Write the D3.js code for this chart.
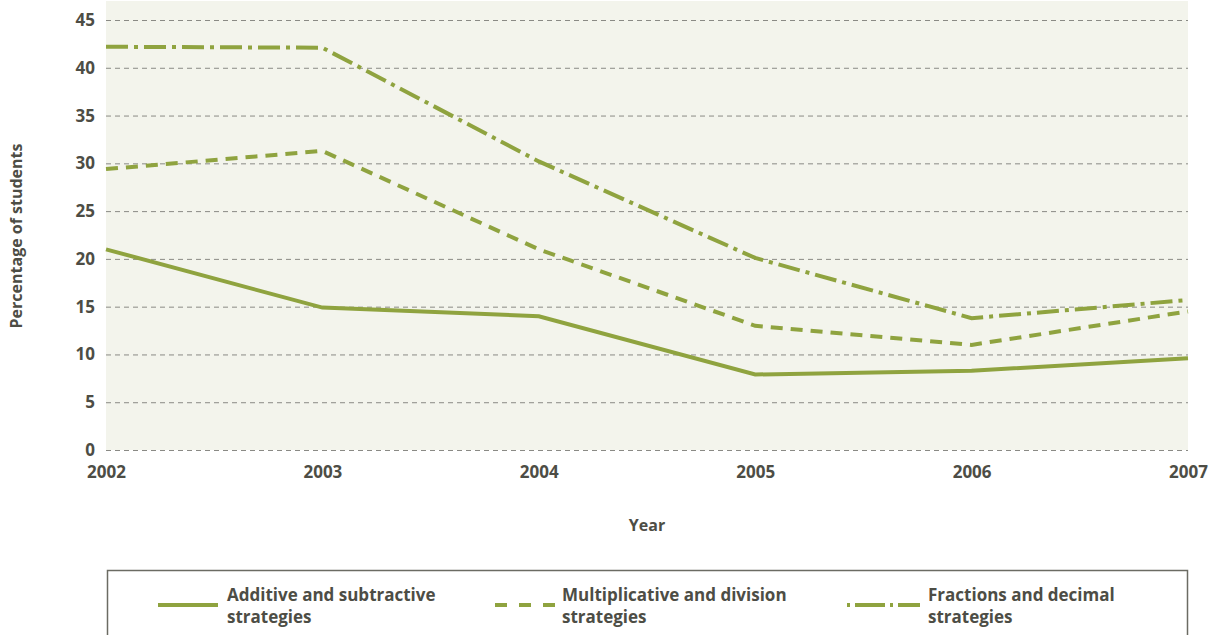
<!DOCTYPE html>
<html>
<head>
<meta charset="utf-8">
<script src="https://cdn.jsdelivr.net/npm/d3@7"></script>
<style>
  body { margin: 0; background: #fff; }
  text { font-family: "Open Sans", "Noto Sans", sans-serif; font-weight: bold; fill: #4d4d45; }
</style>
</head>
<body>
<svg id="chart" width="1211" height="635"></svg>
<script>
const YEARS = [2002, 2003, 2004, 2005, 2006, 2007]
const Y_TICKS = [0, 5, 10, 15, 20, 25, 30, 35, 40, 45]

const ADDITIVE = [21.0, 14.9, 14.0, 7.9, 8.3, 9.6]
const MULTIPLICATIVE = [29.4, 31.3, 21.0, 13.0, 11.0, 14.5]
const FRACTIONS = [42.2, 42.1, 30.2, 20.1, 13.8, 15.7]

const SERIES_NAMES = [
  ["Additive and subtractive", "strategies"],
  ["Multiplicative and division", "strategies"],
  ["Fractions and decimal", "strategies"]
]

const LINE_COLOR = "#8fa33f"
const DASHES = [null, "12,8", "22,6,4,6"]

var svg = d3.select("#chart")

var x = d3.scaleLinear().domain([2002, 2007]).range([106, 1188])
var y = d3.scaleLinear().domain([0, 45]).range([450, 20])

//plot background
svg.append("rect")
  .attr("x", x(2002))
  .attr("y", 1)
  .attr("width", x(2007) - x(2002))
  .attr("height", y(0) - 1)
  .attr("fill", "#f3f4ec")

//gridlines
svg.append("g")
  .selectAll("line")
  .data(Y_TICKS)
  .enter()
  .append("line")
    .attr("x1", x(2002))
    .attr("x2", x(2007))
    .attr("y1", d => y(d) + 0.5)
    .attr("y2", d => y(d) + 0.5)
    .attr("stroke", "#8a8a85")
    .attr("stroke-width", 1)
    .attr("stroke-dasharray", "5,4")

//y axis labels
var yAxis = d3.axisLeft(y).tickValues(Y_TICKS).tickSize(0).tickPadding(11)
var yG = svg.append("g").attr("transform", "translate(" + x(2002) + ",0)").call(yAxis)
yG.select(".domain").remove()
yG.selectAll("text")
  .style("font-size", "17px")
  .style("font-family", "'Open Sans', sans-serif")
  .attr("fill", "#4d4d45")

//x axis labels
var xAxis = d3.axisBottom(x).tickValues(YEARS).tickFormat(d3.format("d")).tickSize(0).tickPadding(16)
var xG = svg.append("g").attr("transform", "translate(0," + y(0) + ")").call(xAxis)
xG.select(".domain").remove()
xG.selectAll("text")
  .style("font-size", "17px")
  .style("font-family", "'Open Sans', sans-serif")
  .attr("fill", "#4d4d45")

//axis titles
svg.append("text")
  .attr("x", 647)
  .attr("y", 531)
  .attr("text-anchor", "middle")
  .style("font-size", "16px")
  .text("Year")

svg.append("text")
  .attr("transform", "translate(22,236)rotate(-90)")
  .attr("text-anchor", "middle")
  .style("font-size", "16px")
  .text("Percentage of students")

//series lines
var line = d3.line()
  .x((d, i) => x(YEARS[i]))
  .y(d => y(d))

;[ADDITIVE, MULTIPLICATIVE, FRACTIONS].forEach((values, i) => {
  svg.append("path")
    .datum(values)
    .attr("d", line)
    .attr("fill", "none")
    .attr("stroke", LINE_COLOR)
    .attr("stroke-width", 4)
    .attr("stroke-dasharray", DASHES[i])
})

//legend
svg.append("rect")
  .attr("x", 107.5)
  .attr("y", 570.5)
  .attr("width", 1080)
  .attr("height", 100)
  .attr("fill", "none")
  .attr("stroke", "#6b6b63")
  .attr("stroke-width", 1.5)

var legendX = [[158, 218, 227], [495, 555, 562], [847, 920, 928]]
var legendDash = [null, "12,12", "3,5,30,5,3,5,22"]

SERIES_NAMES.forEach((name, i) => {
  var pos = legendX[i]
  svg.append("line")
    .attr("x1", pos[0])
    .attr("x2", pos[1])
    .attr("y1", 605)
    .attr("y2", 605)
    .attr("stroke", LINE_COLOR)
    .attr("stroke-width", 4)
    .attr("stroke-dasharray", legendDash[i])

  var t = svg.append("text")
    .attr("x", pos[2])
    .attr("y", 601)
    .style("font-size", "17px")
  t.append("tspan").attr("x", pos[2]).text(name[0])
  t.append("tspan").attr("x", pos[2]).attr("dy", 22).text(name[1])
})
</script>
</body>
</html>
